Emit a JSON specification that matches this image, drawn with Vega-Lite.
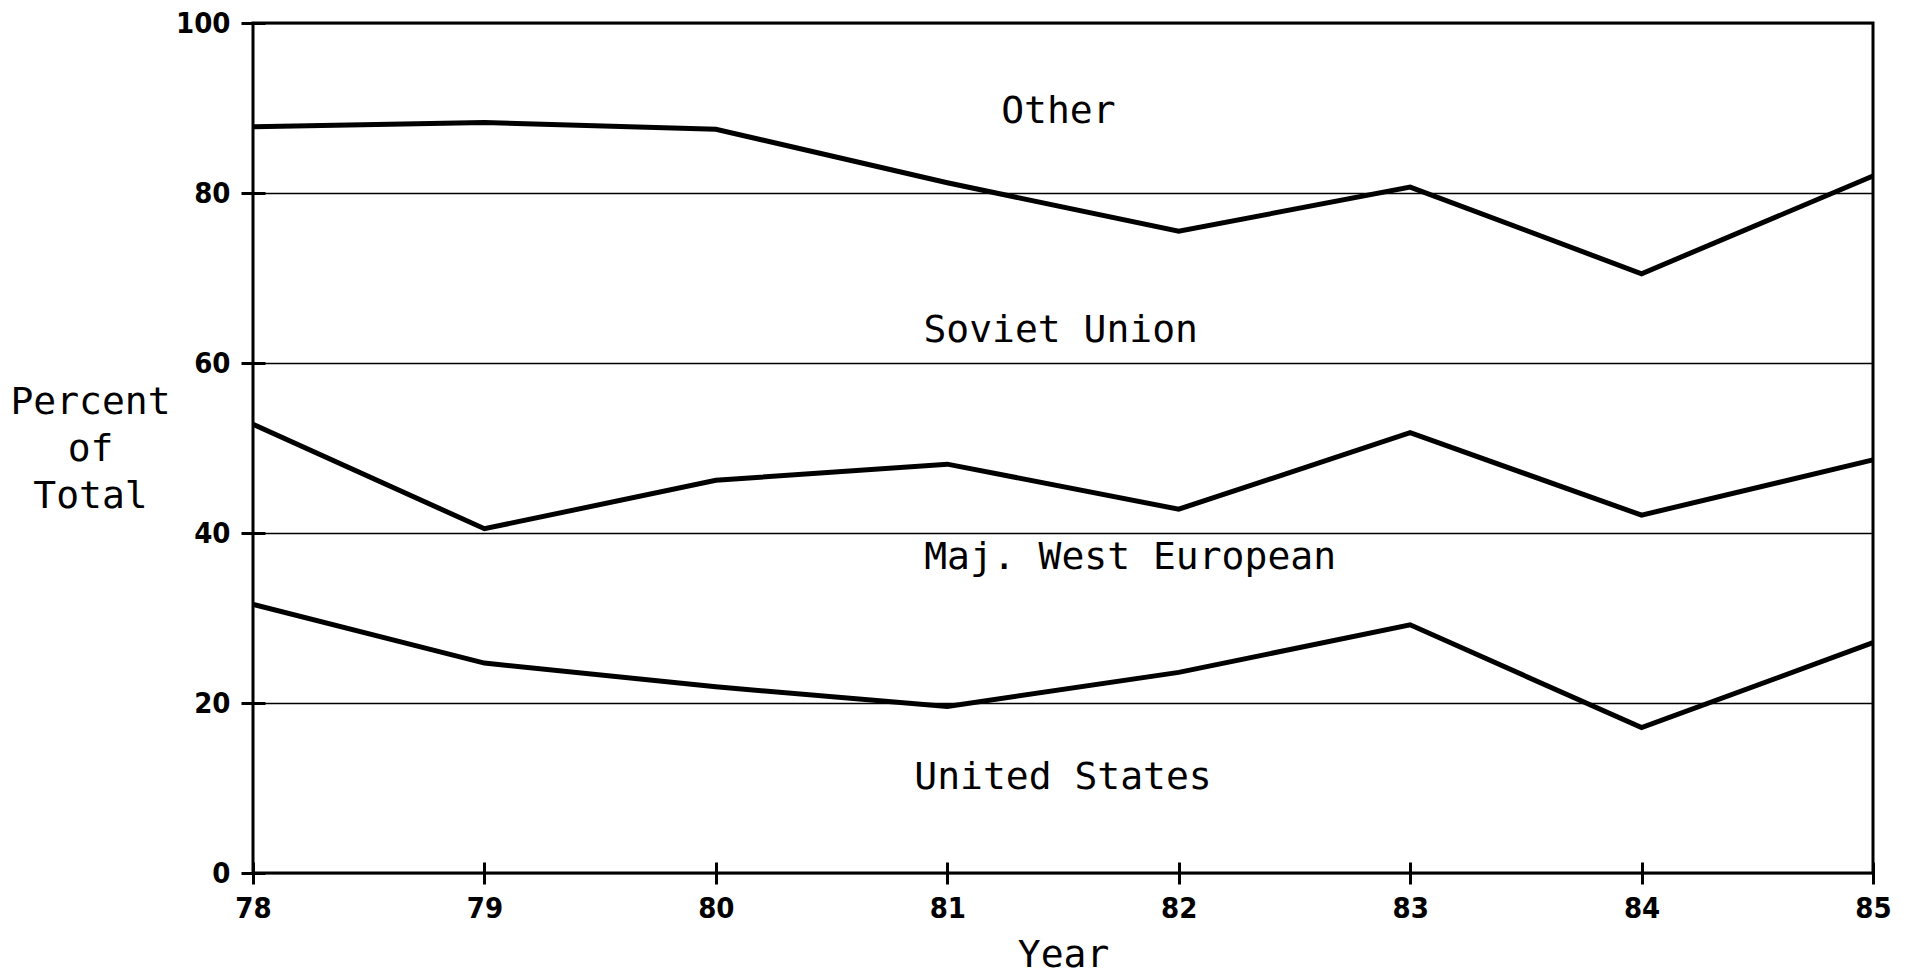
{
  "$schema": "https://vega.github.io/schema/vega-lite/v6.json",
  "autosize": "none",
  "width": 1620,
  "height": 850,
  "padding": {"left": 253, "top": 23, "right": 39, "bottom": 107},
  "background": "white",
  "config": {
    "view": {"stroke": "black", "strokeWidth": 3},
    "axis": {
      "domain": false,
      "tickColor": "black",
      "tickWidth": 3,
      "labelColor": "black",
      "labelFont": "Liberation Sans Narrow, DejaVu Sans Condensed",
      "labelFontSize": 29,
      "labelFontWeight": "bold",
      "labelFlush": false,
      "labelOverlap": false,
      "titleColor": "black",
      "titleFont": "DejaVu Sans Mono",
      "titleFontSize": 38,
      "titleFontWeight": "normal"
    }
  },
  "layer": [
    {
      "data": {
        "values": [
          {"year": 78, "boundary": "US", "value": 31.6},
          {"year": 79, "boundary": "US", "value": 24.7},
          {"year": 80, "boundary": "US", "value": 21.9},
          {"year": 81, "boundary": "US", "value": 19.6},
          {"year": 82, "boundary": "US", "value": 23.6},
          {"year": 83, "boundary": "US", "value": 29.2},
          {"year": 84, "boundary": "US", "value": 17.1},
          {"year": 85, "boundary": "US", "value": 27.1},
          {"year": 78, "boundary": "WE", "value": 52.8},
          {"year": 79, "boundary": "WE", "value": 40.5},
          {"year": 80, "boundary": "WE", "value": 46.2},
          {"year": 81, "boundary": "WE", "value": 48.1},
          {"year": 82, "boundary": "WE", "value": 42.8},
          {"year": 83, "boundary": "WE", "value": 51.8},
          {"year": 84, "boundary": "WE", "value": 42.1},
          {"year": 85, "boundary": "WE", "value": 48.6},
          {"year": 78, "boundary": "SU", "value": 87.8},
          {"year": 79, "boundary": "SU", "value": 88.3},
          {"year": 80, "boundary": "SU", "value": 87.5},
          {"year": 81, "boundary": "SU", "value": 81.2},
          {"year": 82, "boundary": "SU", "value": 75.5},
          {"year": 83, "boundary": "SU", "value": 80.7},
          {"year": 84, "boundary": "SU", "value": 70.5},
          {"year": 85, "boundary": "SU", "value": 82.0}
        ]
      },
      "mark": {"type": "line", "color": "black", "strokeWidth": 5, "strokeJoin": "miter"},
      "encoding": {
        "x": {
          "field": "year",
          "type": "quantitative",
          "scale": {"domain": [78, 85], "nice": false, "zero": false},
          "axis": {
            "values": [78, 79, 80, 81, 82, 83, 84, 85],
            "format": "d",
            "grid": false,
            "offset": -11,
            "tickSize": 22,
            "labelPadding": 10,
            "title": "Year",
            "titleBaseline": "alphabetic",
            "titleY": 104
          }
        },
        "y": {
          "field": "value",
          "type": "quantitative",
          "scale": {"domain": [0, 100], "nice": false},
          "axis": {
            "values": [0, 20, 40, 60, 80, 100],
            "grid": true,
            "gridColor": "black",
            "gridWidth": 1.5,
            "gridOpacity": 1,
            "offset": -12,
            "tickSize": 24,
            "labelPadding": 11,
            "title": ["Percent", "of", "Total"],
            "titleAngle": 0,
            "titleAlign": "center",
            "titleBaseline": "alphabetic",
            "titleX": -175,
            "titleY": 390,
            "titleLineHeight": 47
          }
        },
        "detail": {"field": "boundary"}
      }
    },
    {
      "data": {
        "values": [
          {"label": "Other", "x": 81.48, "y": 89.5},
          {"label": "Soviet Union", "x": 81.49, "y": 63.8},
          {"label": "Maj. West European", "x": 81.79, "y": 37.1},
          {"label": "United States", "x": 81.5, "y": 11.2}
        ]
      },
      "mark": {"type": "text", "font": "DejaVu Sans Mono", "fontSize": 38, "align": "center", "baseline": "middle", "color": "black"},
      "encoding": {
        "x": {"field": "x", "type": "quantitative"},
        "y": {"field": "y", "type": "quantitative"},
        "text": {"field": "label"}
      }
    }
  ]
}
